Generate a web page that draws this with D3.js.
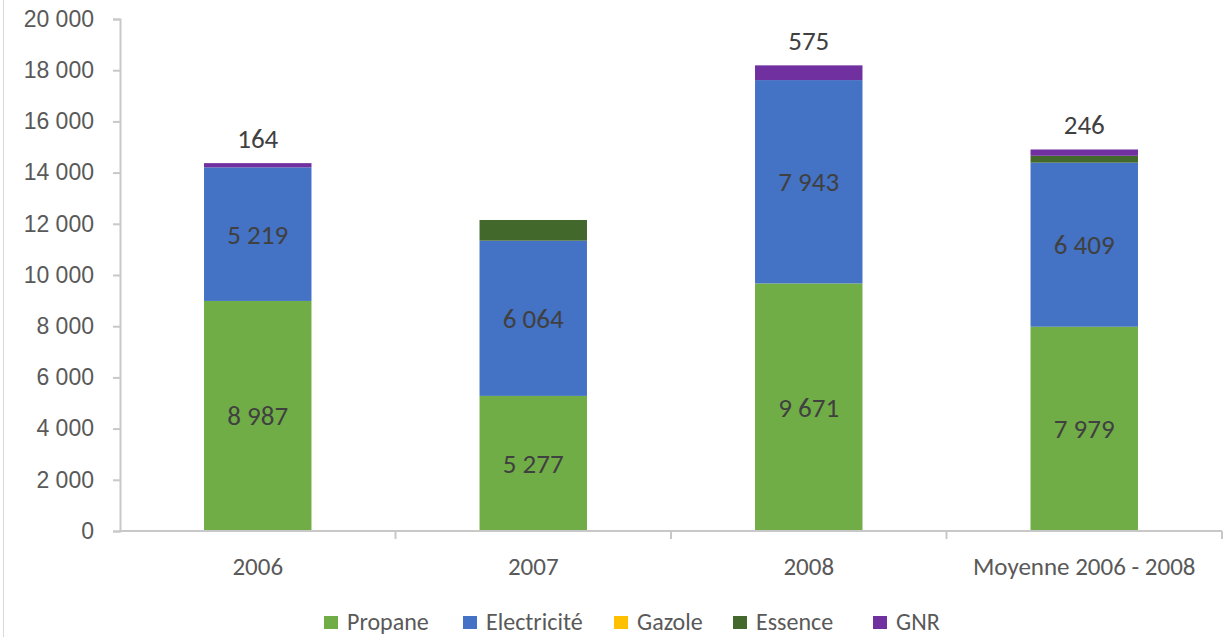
<!DOCTYPE html>
<html>
<head>
<meta charset="utf-8">
<script src="https://cdn.jsdelivr.net/npm/d3@7"></script>
<style>
  body { margin: 0; background: #fff; }
  svg { font-family: Carlito, "Liberation Sans Narrow", "Open Sans", sans-serif; }
</style>
</head>
<body>
<svg id="chart" width="1229" height="637"></svg>
<script>
const categories = ["2006", "2007", "2008", "Moyenne 2006 - 2008"];
const series = ["Propane", "Electricité", "Gazole", "Essence", "GNR"];
const colors = ["#70AD47", "#4472C4", "#FFC000", "#43682B", "#7030A0"];

const propane = [8987, 5277, 9671, 7979];
const electricite = [5219, 6064, 7943, 6409];
const gazole = [0, 0, 0, 0];
const essence = [0, 807, 0, 269];
const gnr = [164, 0, 575, 246];

const yTicks = [0, 2000, 4000, 6000, 8000, 10000, 12000, 14000, 16000, 18000, 20000];

const fr = d3.formatLocale({ decimal: ",", thousands: " ", grouping: [3], currency: ["", " €"] });
const fmt = fr.format(",d");

const width = 1229, height = 637;
const margin = { left: 120, right: 7, top: 19, bottom: 106 };

const svg = d3.select("#chart");

// outer chart border on the left
svg.append("line")
    .attr("x1", 3.5).attr("x2", 3.5)
    .attr("y1", 0).attr("y2", height)
    .attr("stroke", "#d9d9d9").attr("stroke-width", 1);

const x = d3.scaleBand()
    .domain(categories)
    .range([margin.left, width - margin.right])
    .paddingInner(0.61)
    .paddingOuter(0.305);

const y = d3.scaleLinear()
    .domain([0, 20000])
    .range([height - margin.bottom, margin.top]);

const rows = categories.map((c, i) => ({
    cat: c,
    "Propane": propane[i],
    "Electricité": electricite[i],
    "Gazole": gazole[i],
    "Essence": essence[i],
    "GNR": gnr[i]
}));

const stacked = d3.stack().keys(series)(rows);

const g = svg.append("g");

g.selectAll(".layer")
  .data(stacked)
  .join("g")
  .attr("class", "layer")
  .attr("fill", (d, i) => colors[i])
  .selectAll("rect")
  .data(d => d.filter(p => p[1] > p[0]))
  .join("rect")
  .attr("x", d => x(d.data.cat))
  .attr("width", x.bandwidth())
  .attr("y", d => y(d[1]))
  .attr("height", d => y(d[0]) - y(d[1]));

// labels inside Propane and Electricité segments
g.selectAll(".inner-label")
  .data(stacked.slice(0, 2).flatMap(s => s))
  .join("text")
  .attr("class", "inner-label")
  .attr("x", d => x(d.data.cat) + x.bandwidth() / 2)
  .attr("y", d => y((d[0] + d[1]) / 2))
  .attr("dy", "0.35em")
  .attr("text-anchor", "middle")
  .attr("font-size", 27)
  .attr("fill", "#404040")
  .text(d => fmt(d[1] - d[0]));

// GNR labels above the bars
const gnrLayer = stacked[stacked.length - 1];
g.selectAll(".top-label")
  .data(gnrLayer.filter(d => d[1] > d[0]))
  .join("text")
  .attr("class", "top-label")
  .attr("x", d => x(d.data.cat) + x.bandwidth() / 2)
  .attr("y", d => y(d[1]) - 15)
  .attr("text-anchor", "middle")
  .attr("font-size", 27)
  .attr("fill", "#404040")
  .text(d => fmt(d[1] - d[0]));

// y axis
const yAxis = svg.append("g")
    .attr("transform", "translate(" + margin.left + ",0)")
    .call(d3.axisLeft(y).tickValues(yTicks).tickSize(7).tickPadding(19).tickFormat(fmt));
yAxis.select(".domain").attr("stroke", "#c8c8c8").attr("stroke-width", 2);
yAxis.selectAll(".tick line").attr("stroke", "#c8c8c8").attr("stroke-width", 2);
yAxis.selectAll(".tick text")
    .attr("font-size", 23)
    .attr("font-family", null)
    .attr("fill", "#595959");

// x axis with ticks between categories
const xAxisY = y(0);
const xg = svg.append("g");
xg.append("line")
    .attr("x1", margin.left).attr("x2", width - margin.right)
    .attr("y1", xAxisY).attr("y2", xAxisY)
    .attr("stroke", "#c8c8c8").attr("stroke-width", 2);

const step = x.step();
const bounds = categories.map((c, i) => margin.left + step * (i + 1));
xg.selectAll(".xtick")
  .data(bounds)
  .join("line")
  .attr("class", "xtick")
  .attr("x1", d => d).attr("x2", d => d)
  .attr("y1", xAxisY).attr("y2", xAxisY + 8)
  .attr("stroke", "#c8c8c8").attr("stroke-width", 2);

xg.selectAll(".xlabel")
  .data(categories)
  .join("text")
  .attr("class", "xlabel")
  .attr("x", d => x(d) + x.bandwidth() / 2)
  .attr("y", xAxisY + 44)
  .attr("text-anchor", "middle")
  .attr("font-size", 25)
  .attr("fill", "#595959")
  .text(d => d);

// legend
const legend = svg.append("g").attr("transform", "translate(0,622)");
const legendX = [324, 463, 614, 733, 873];
const items = legend.selectAll(".item")
  .data(series)
  .join("g")
  .attr("class", "item")
  .attr("transform", (d, i) => "translate(" + legendX[i] + ",0)");

items.append("rect")
  .attr("x", 0).attr("y", -6)
  .attr("width", 14).attr("height", 13)
  .attr("fill", (d, i) => colors[i]);

items.append("text")
  .attr("x", 23)
  .attr("dy", "0.35em")
  .attr("font-size", 24)
  .attr("fill", "#595959")
  .text(d => d);
</script>
</body>
</html>
